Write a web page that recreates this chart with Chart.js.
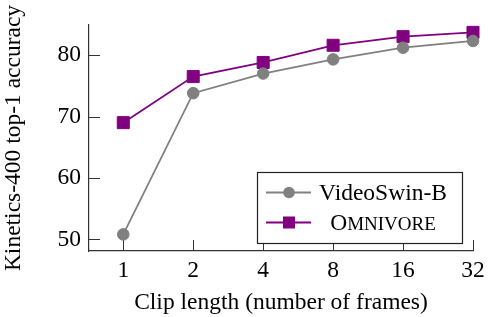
<!DOCTYPE html>
<html lang="en">
<head>
    <meta charset="UTF-8">
    <script src="https://cdn.jsdelivr.net/npm/chart.js"></script>
    <style>
        body { margin: 0; background: #fff; }
        #chart { display: block; }
    </style>
</head>
<body>
    <canvas id="chart" width="491" height="317"></canvas>

    <script>
        // Data
        var frameLabels = ["1", "2", "4", "8", "16", "32"];
        var videoSwin = [50.8, 73.8, 77.0, 79.3, 81.2, 82.3];
        var omnivore = [69.0, 76.5, 78.8, 81.6, 83.0, 83.7];
        var yTicks = [50, 60, 70, 80];

        var serif = "'Liberation Serif', 'DejaVu Serif', serif";
        var fontSize = 23.5;
        var axisColor = "#333";

        function toPoints(values) {
            return values.map(function (v, i) { return { x: i, y: v }; });
        }

        // pgfplots-style ticks pointing into the plot
        var innerTicks = {
            id: "innerTicks",
            beforeDatasetsDraw: function (chart) {
                var ctx = chart.ctx;
                var xs = chart.scales.x, ys = chart.scales.y;
                var area = chart.chartArea;
                ctx.save();
                ctx.strokeStyle = axisColor;
                ctx.lineWidth = 1;
                ys.ticks.forEach(function (t) {
                    var py = Math.round(ys.getPixelForValue(t.value)) + 0.5;
                    ctx.beginPath();
                    ctx.moveTo(area.left, py);
                    ctx.lineTo(area.left + 11, py);
                    ctx.stroke();
                });
                xs.ticks.forEach(function (t) {
                    var px = Math.round(xs.getPixelForValue(t.value)) + 0.5;
                    ctx.beginPath();
                    ctx.moveTo(px, area.bottom);
                    ctx.lineTo(px, area.bottom - 11);
                    ctx.stroke();
                });
                ctx.restore();
            }
        };

        // boxed legend with line + marker samples, like the pgfplots one
        var boxLegend = {
            id: "boxLegend",
            afterDraw: function (chart) {
                var ctx = chart.ctx;
                var bx = 257, by = 172, bw = 205, bh = 71;
                ctx.save();
                ctx.fillStyle = "#fff";
                ctx.fillRect(bx, by, bw, bh);
                ctx.strokeStyle = "#222";
                ctx.lineWidth = 1.2;
                ctx.strokeRect(bx + 0.5, by + 0.5, bw, bh);

                var rows = [by + 20.5, by + 50.5];
                chart.data.datasets.forEach(function (ds, i) {
                    var cy = rows[i];
                    ctx.strokeStyle = ds.borderColor;
                    ctx.lineWidth = ds.borderWidth;
                    ctx.beginPath();
                    ctx.moveTo(266, cy);
                    ctx.lineTo(311, cy);
                    ctx.stroke();
                    ctx.fillStyle = ds.pointBackgroundColor;
                    if (ds.pointStyle === "rect") {
                        ctx.fillRect(289 - 6, cy - 6, 12, 12);
                    } else {
                        ctx.beginPath();
                        ctx.arc(289, cy, 5.8, 0, Math.PI * 2);
                        ctx.fill();
                    }
                    ctx.fillStyle = "#000";
                    ctx.textBaseline = "middle";
                    if (ds.smallCaps) {
                        // "OMNIVORE" in small caps
                        var first = ds.label.charAt(0).toUpperCase();
                        var rest = ds.label.slice(1).toUpperCase();
                        var small = Math.round(fontSize * 0.82);
                        ctx.font = fontSize + "px " + serif;
                        var w1 = ctx.measureText(first).width;
                        ctx.font = small + "px " + serif;
                        var w2 = ctx.measureText(rest).width;
                        var sx = 383 - (w1 + w2) / 2;
                        ctx.textAlign = "left";
                        ctx.font = fontSize + "px " + serif;
                        ctx.fillText(first, sx, cy + 1);
                        ctx.font = small + "px " + serif;
                        ctx.fillText(rest, sx + w1, cy + 2.2);
                    } else {
                        ctx.font = fontSize + "px " + serif;
                        ctx.textAlign = "center";
                        ctx.fillText(ds.label, 383, cy + 1);
                    }
                });
                ctx.restore();
            }
        };

        new Chart(document.getElementById("chart"), {
            type: "line",
            data: {
                datasets: [
                    {
                        label: "VideoSwin-B",
                        data: toPoints(videoSwin),
                        borderColor: "#808080",
                        backgroundColor: "#808080",
                        pointBackgroundColor: "#808080",
                        pointBorderColor: "#808080",
                        borderWidth: 1.8,
                        pointStyle: "circle",
                        pointRadius: 5.8,
                        pointBorderWidth: 1,
                        tension: 0
                    },
                    {
                        label: "Omnivore",
                        smallCaps: true,
                        data: toPoints(omnivore),
                        borderColor: "#800080",
                        backgroundColor: "#800080",
                        pointBackgroundColor: "#800080",
                        pointBorderColor: "#800080",
                        borderWidth: 1.8,
                        pointStyle: "rect",
                        pointRadius: 8.5,
                        pointBorderWidth: 1,
                        tension: 0
                    }
                ]
            },
            options: {
                responsive: false,
                animation: false,
                clip: false,
                layout: { padding: { top: 25, right: 18, left: 0, bottom: 0 } },
                plugins: {
                    legend: { display: false },
                    tooltip: { enabled: false }
                },
                scales: {
                    x: {
                        type: "linear",
                        min: -0.49,
                        max: 5,
                        afterBuildTicks: function (s) {
                            s.ticks = frameLabels.map(function (l, i) { return { value: i }; });
                        },
                        afterFit: function (s) { s.height = 66; },
                        ticks: {
                            color: "#000",
                            font: { family: serif, size: fontSize },
                            padding: 6,
                            maxRotation: 0,
                            callback: function (v) { return frameLabels[v]; }
                        },
                        grid: { display: false, drawTicks: false },
                        border: { display: true, color: axisColor, width: 1.2 },
                        title: {
                            display: true,
                            text: "Clip length (number of frames)",
                            color: "#000",
                            font: { family: serif, size: fontSize },
                            padding: { top: 3, bottom: 0 }
                        }
                    },
                    y: {
                        type: "linear",
                        min: 48.1,
                        max: 84.9,
                        afterBuildTicks: function (s) {
                            s.ticks = yTicks.map(function (v) { return { value: v }; });
                        },
                        afterFit: function (s) { s.width = 89; },
                        ticks: {
                            color: "#000",
                            font: { family: serif, size: fontSize },
                            padding: 8
                        },
                        grid: { display: false, drawTicks: false },
                        border: { display: true, color: axisColor, width: 1.2 },
                        title: {
                            display: true,
                            text: "Kinetics-400 top-1 accuracy",
                            color: "#000",
                            font: { family: serif, size: fontSize },
                            padding: { top: 0, bottom: 0 }
                        }
                    }
                }
            },
            plugins: [innerTicks, boxLegend]
        });
    </script>
</body>
</html>
